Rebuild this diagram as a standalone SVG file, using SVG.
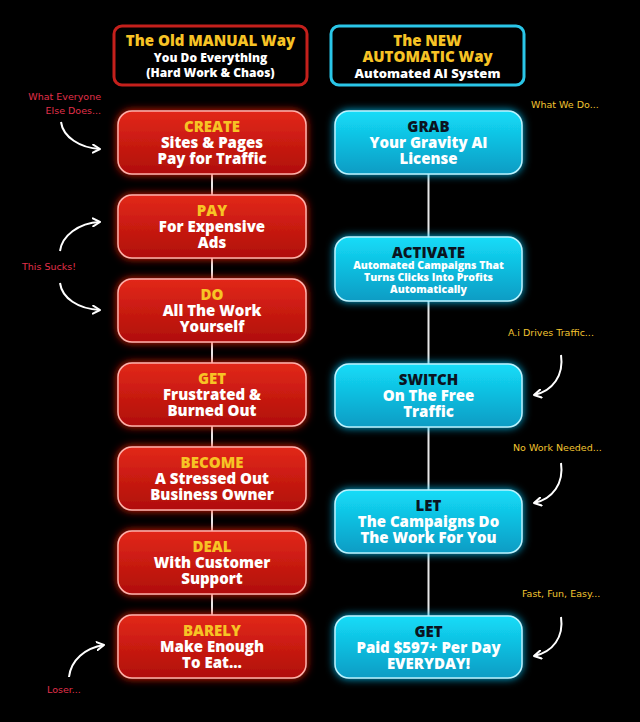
<svg xmlns="http://www.w3.org/2000/svg" width="640" height="722" viewBox="0 0 640 722">
<defs>
<style>
.t{font-family:"Open Sans","Liberation Sans",sans-serif;font-weight:800;text-anchor:middle}
.ty{fill:#f7c325;font-size:15px}
.tw{fill:#ffffff;font-size:15px}
.td{fill:#0b1420;font-size:15px}
.ts{fill:#ffffff;font-size:10.5px}
.hw{fill:#ffffff;font-size:12px}
.rn{fill:url(#gR);stroke:#ffb0a8;stroke-width:1.5;filter:url(#glR)}
.cn{fill:url(#gC);stroke:#b8f4ff;stroke-width:1.5;filter:url(#glC)}
.con{stroke:#e8e8e8;stroke-width:2;fill:none}
.arr{stroke:#ffffff;stroke-width:2;fill:none;marker-end:url(#ah)}
.hand{font-family:"DejaVu Sans","Liberation Sans",sans-serif;font-size:9.5px}
.hr{fill:#e0304a}
.hy{fill:#f2c530}
</style>
<linearGradient id="gR" x1="0" y1="0" x2="0" y2="1">
<stop offset="0" stop-color="#e2281a"/><stop offset="1" stop-color="#b00e08"/>
</linearGradient>
<linearGradient id="gC" x1="0" y1="0" x2="0" y2="1">
<stop offset="0" stop-color="#14dcf8"/><stop offset="1" stop-color="#0a9cc4"/>
</linearGradient>
<filter id="glR" x="-20%" y="-40%" width="140%" height="180%">
<feDropShadow dx="0" dy="0" stdDeviation="4" flood-color="#ff1a10" flood-opacity="0.9"/>
</filter>
<filter id="glC" x="-20%" y="-40%" width="140%" height="180%">
<feDropShadow dx="0" dy="0" stdDeviation="4" flood-color="#00c8ff" flood-opacity="0.9"/>
</filter>
<marker id="ah" viewBox="0 0 10 10" refX="8" refY="5" markerWidth="5" markerHeight="5" orient="auto" markerUnits="strokeWidth">
<path d="M1,1 L8,5 L1,9" stroke="#ffffff" stroke-width="2" fill="none" stroke-linecap="round" stroke-linejoin="round"/>
</marker>
</defs>
<rect width="640" height="722" fill="#000000"/>

<g id="connectors">
<line class="con" x1="212" y1="174" x2="212" y2="616"/>
<line class="con" x1="428.5" y1="174" x2="428.5" y2="616"/>
</g>

<g id="header-old">
<rect x="114" y="26" width="193" height="59" rx="8" fill="#000" stroke="#c4201c" stroke-width="3"/>
<text class="t ty" x="210.5" y="46">The Old MANUAL Way</text>
<text class="t hw" x="210.5" y="62">You Do Everything</text>
<text class="t hw" x="210.5" y="77">(Hard Work &amp; Chaos)</text>
</g>
<g id="header-new">
<rect x="331" y="26" width="193" height="59" rx="8" fill="#000" stroke="#2ac6e8" stroke-width="3"/>
<text class="t ty" x="427.5" y="46">The NEW</text>
<text class="t ty" x="427.5" y="62">AUTOMATIC Way</text>
<text class="t hw" x="427.5" y="78" style="font-size:13px">Automated AI System</text>
</g>

<g id="create">
<rect class="rn" x="118" y="111" width="188" height="63" rx="14"/>
<text class="t ty" x="212" y="132">CREATE</text>
<text class="t tw" x="212" y="148">Sites &amp; Pages</text>
<text class="t tw" x="212" y="164">Pay for Traffic</text>
</g>
<g id="pay">
<rect class="rn" x="118" y="195" width="188" height="63" rx="14"/>
<text class="t ty" x="212" y="216">PAY</text>
<text class="t tw" x="212" y="232">For Expensive</text>
<text class="t tw" x="212" y="248">Ads</text>
</g>
<g id="do">
<rect class="rn" x="118" y="279" width="188" height="63" rx="14"/>
<text class="t ty" x="212" y="300">DO</text>
<text class="t tw" x="212" y="316">All The Work</text>
<text class="t tw" x="212" y="332">Yourself</text>
</g>
<g id="get-frustrated">
<rect class="rn" x="118" y="363" width="188" height="63" rx="14"/>
<text class="t ty" x="212" y="384">GET</text>
<text class="t tw" x="212" y="400">Frustrated &amp;</text>
<text class="t tw" x="212" y="416">Burned Out</text>
</g>
<g id="become">
<rect class="rn" x="118" y="447" width="188" height="63" rx="14"/>
<text class="t ty" x="212" y="468">BECOME</text>
<text class="t tw" x="212" y="484">A Stressed Out</text>
<text class="t tw" x="212" y="500">Business Owner</text>
</g>
<g id="deal">
<rect class="rn" x="118" y="531" width="188" height="63" rx="14"/>
<text class="t ty" x="212" y="552">DEAL</text>
<text class="t tw" x="212" y="568">With Customer</text>
<text class="t tw" x="212" y="584">Support</text>
</g>
<g id="barely">
<rect class="rn" x="118" y="615" width="188" height="63" rx="14"/>
<text class="t ty" x="212" y="636">BARELY</text>
<text class="t tw" x="212" y="652">Make Enough</text>
<text class="t tw" x="212" y="668">To Eat...</text>
</g>

<g id="grab">
<rect class="cn" x="335" y="111" width="187" height="63" rx="14"/>
<text class="t td" x="428.5" y="132">GRAB</text>
<text class="t tw" x="428.5" y="148">Your Gravity AI</text>
<text class="t tw" x="428.5" y="164">License</text>
</g>
<g id="activate">
<rect class="cn" x="335" y="237" width="187" height="64" rx="14"/>
<text class="t td" x="428.5" y="257.5">ACTIVATE</text>
<text class="t ts" x="428.5" y="269">Automated Campaigns That</text>
<text class="t ts" x="428.5" y="281">Turns Clicks Into Profits</text>
<text class="t ts" x="428.5" y="293">Automatically</text>
</g>
<g id="switch">
<rect class="cn" x="335" y="364" width="187" height="63" rx="14"/>
<text class="t td" x="428.5" y="385">SWITCH</text>
<text class="t tw" x="428.5" y="401">On The Free</text>
<text class="t tw" x="428.5" y="417">Traffic</text>
</g>
<g id="let">
<rect class="cn" x="335" y="490" width="187" height="63" rx="14"/>
<text class="t td" x="428.5" y="511">LET</text>
<text class="t tw" x="428.5" y="527">The Campaigns Do</text>
<text class="t tw" x="428.5" y="543">The Work For You</text>
</g>
<g id="get-paid">
<rect class="cn" x="335" y="616" width="187" height="62" rx="14"/>
<text class="t td" x="428.5" y="637">GET</text>
<text class="t tw" x="428.5" y="653">Paid $597+ Per Day</text>
<text class="t tw" x="428.5" y="669">EVERYDAY!</text>
</g>

<g id="annotations">
<text class="hand hr" x="101" y="100" text-anchor="end">What Everyone</text>
<text class="hand hr" x="101" y="114" text-anchor="end">Else Does...</text>
<path class="arr" d="M61,122 C63,137 80,148 100,149"/>
<text class="hand hr" x="22" y="270">This Sucks!</text>
<path class="arr" d="M60,251 C62,236 78,223 100,222"/>
<path class="arr" d="M60,283 C62,298 78,309 100,310"/>
<text class="hand hr" x="47" y="693">Loser...</text>
<path class="arr" d="M69,677 C71,660 85,648 104,645"/>
<text class="hand hy" x="531" y="108">What We Do...</text>
<text class="hand hy" x="508" y="336">A.i Drives Traffic...</text>
<path class="arr" d="M561,355 C564,375 553,391 534,395"/>
<text class="hand hy" x="513" y="451">No Work Needed...</text>
<path class="arr" d="M561,463 C564,483 553,499 534,503"/>
<text class="hand hy" x="522" y="597">Fast, Fun, Easy...</text>
<path class="arr" d="M561,617 C564,637 553,652 534,656"/>
</g>
</svg>
